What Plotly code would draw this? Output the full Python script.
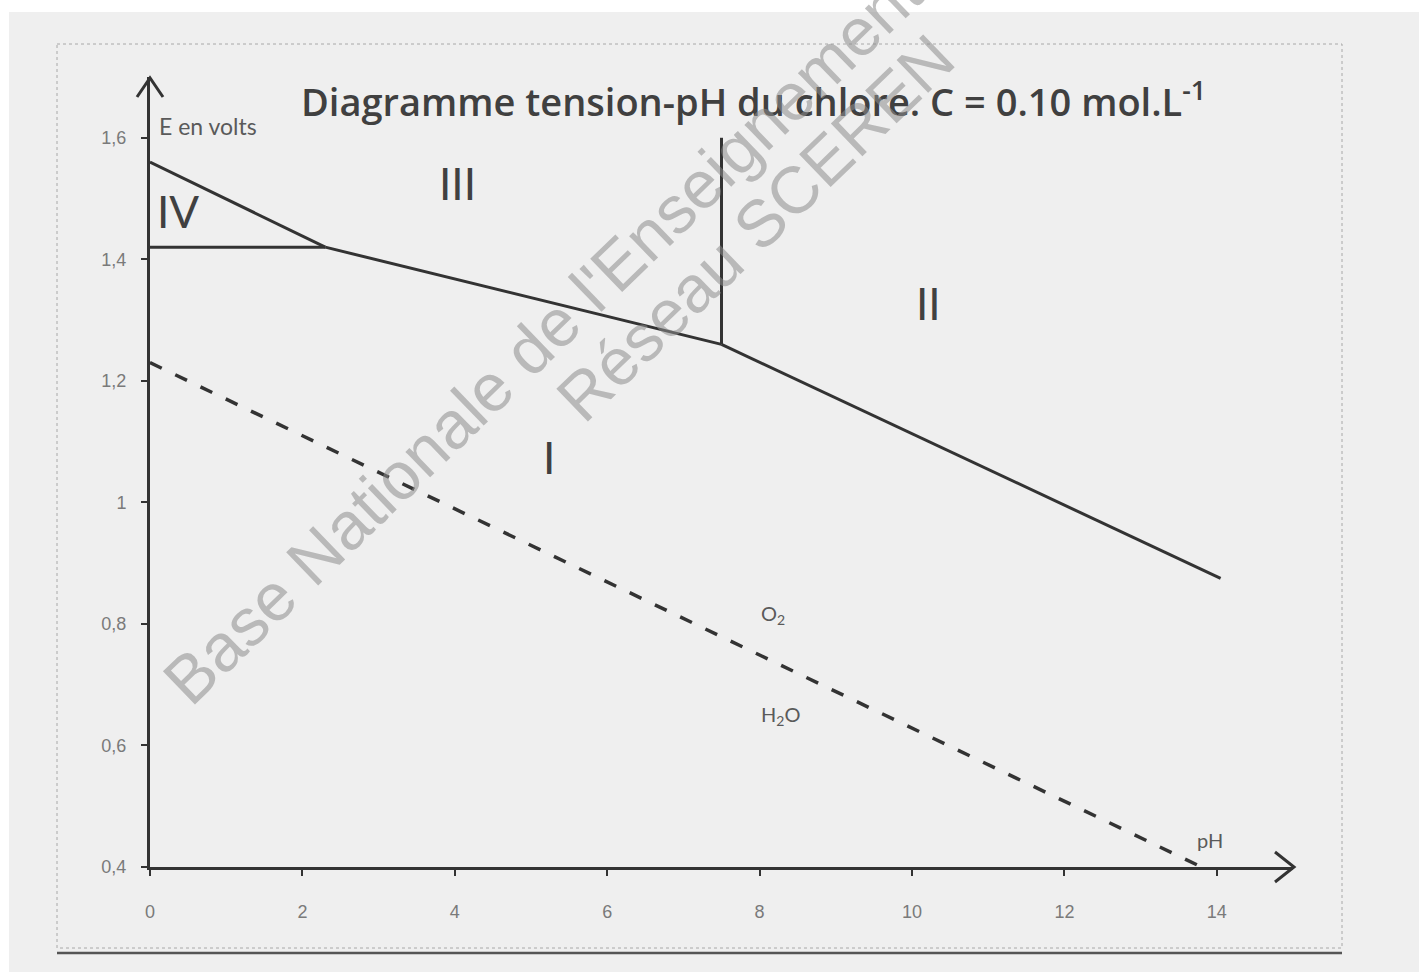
import plotly.graph_objects as go

# ---------------- data ----------------
# boundary IV / III
ph_iv_iii = [0.0, 2.3]
e_iv_iii = [1.56, 1.42]
# boundary IV / I (horizontal)
ph_iv_i = [0.0, 2.3]
e_iv_i = [1.42, 1.42]
# boundary III / I
ph_iii_i = [2.3, 7.5]
e_iii_i = [1.42, 1.26]
# boundary III / II (vertical)
ph_iii_ii = [7.5, 7.5]
e_iii_ii = [1.26, 1.60]
# boundary II / I
ph_ii_i = [7.5, 14.05]
e_ii_i = [1.26, 0.875]
# water O2 / H2O (dashed)
ph_water = [0.0, 13.8]
e_water = [1.23, 0.40]

x_tickvals = [0, 2, 4, 6, 8, 10, 12, 14]
y_tickvals = [0.4, 0.6, 0.8, 1.0, 1.2, 1.4, 1.6]
y_ticktext = ["0,4", "0,6", "0,8", "1", "1,2", "1,4", "1,6"]

region_labels = ["IV", "III", "II", "I"]
region_x = [0.37, 4.04, 10.22, 5.24]
region_y = [1.48, 1.525, 1.328, 1.074]

# ---------------- layout geometry (pixels) ----------------
W, H = 1419, 972
L, R, T, B = 150, 1293, 77, 867


def P(px, py):
    return (px - L) / (R - L), (B - py) / (B - T)


LINE = "#333333"
fig = go.Figure()

segments = [
    (ph_iv_iii, e_iv_iii),
    (ph_iv_i, e_iv_i),
    (ph_iii_i, e_iii_i),
    (ph_iii_ii, e_iii_ii),
    (ph_ii_i, e_ii_i),
]
for xs, ys in segments:
    fig.add_trace(go.Scatter(x=xs, y=ys, mode="lines", cliponaxis=False,
                             line=dict(color=LINE, width=3), hoverinfo="skip",
                             showlegend=False))

fig.add_trace(go.Scatter(x=ph_water, y=e_water, mode="lines", cliponaxis=False,
                         line=dict(color=LINE, width=3.5, dash="13px,15px"),
                         hoverinfo="skip", showlegend=False))

annotations = []
for t, x, y in zip(region_labels, region_x, region_y):
    annotations.append(dict(x=x, y=y, xref="x", yref="y", text=t, showarrow=False,
                            xanchor="center", yanchor="middle",
                            font=dict(family="Lato", size=44, color="#404040")))

small = [
    ("E en volts", 0.09, 1.619, "left", 23),
    ("O<sub>2</sub>", 8.18, 0.816, "center", 20),
    ("H<sub>2</sub>O", 8.27, 0.65, "center", 20),
    ("pH", 13.91, 0.444, "center", 20),
]
for t, x, y, xa, s in small:
    annotations.append(dict(x=x, y=y, xref="x", yref="y", text=t, showarrow=False,
                            xanchor=xa, yanchor="middle",
                            font=dict(family="Lato", size=s, color="#5a5a5a")))

# title
tx, ty = P(753, 99)
annotations.append(dict(x=tx, y=ty, xref="paper", yref="paper", showarrow=False,
                        xanchor="center", yanchor="middle",
                        text="Diagramme tension-pH du chlore. C = 0.10 mol.L<sup>-1</sup>",
                        font=dict(family="Open Sans", size=38, color="#404040", weight=600)))

# watermark
wm = [("Base Nationale de l'Enseignement", 542, 336, 67),
      ("Réseau SCEREN", 755, 228, 66)]
for t, px, py, s in wm:
    ax_, ay_ = P(px, py)
    annotations.append(dict(x=ax_, y=ay_, xref="paper", yref="paper", text=t,
                            showarrow=False, textangle=-44,
                            xanchor="center", yanchor="middle",
                            font=dict(family="Liberation Sans", size=s,
                                      color="rgba(140,140,140,0.55)")))

shapes = []
# white scan margins
for x0, y0, x1, y1 in [(0, 0, W, 12), (0, 0, 9, H)]:
    a, b = P(x0, y0)
    c, d = P(x1, y1)
    shapes.append(dict(type="rect", xref="paper", yref="paper", x0=a, y0=b, x1=c, y1=d,
                       fillcolor="white", line=dict(width=0), layer="below"))
# frame
a, b = P(57, 44)
c, d = P(1342, 948)
shapes.append(dict(type="rect", xref="paper", yref="paper", x0=a, y0=b, x1=c, y1=d,
                   line=dict(color="#a8a8a8", width=1, dash="dot"), layer="below"))
a, b = P(57, 953)
c, d = P(1342, 953)
shapes.append(dict(type="line", xref="paper", yref="paper", x0=a, y0=b, x1=c, y1=d,
                   line=dict(color="#555555", width=2.5)))


def path(pts):
    s = ""
    for i, (px, py) in enumerate(pts):
        x, y = P(px, py)
        s += ("M " if i == 0 else " L ") + f"{x},{y}"
    return s


# arrow heads
shapes.append(dict(type="path", xref="paper", yref="paper",
                   path=path([(137, 97), (150, 78), (163, 97)]),
                   line=dict(color=LINE, width=3)))
shapes.append(dict(type="path", xref="paper", yref="paper",
                   path=path([(1275, 852), (1294, 867), (1275, 882)]),
                   line=dict(color=LINE, width=3)))

fig.update_layout(
    width=W, height=H,
    margin=dict(l=L, r=W - R, t=T, b=H - B, pad=0),
    paper_bgcolor="#efefef", plot_bgcolor="#efefef",
    annotations=annotations, shapes=shapes,
    showlegend=False,
)
fig.update_xaxes(range=[0, 15], showgrid=False, zeroline=False, showline=True,
                 linecolor=LINE, linewidth=3, ticks="outside", ticklen=6, tickwidth=2,
                 tickcolor=LINE, tickvals=x_tickvals, ticklabelstandoff=20,
                 tickfont=dict(family="Liberation Sans", size=18, color="#7a7a7a"))
fig.update_yaxes(range=[0.4, 1.7], showgrid=False, zeroline=False, showline=True,
                 linecolor=LINE, linewidth=3, ticks="outside", ticklen=6, tickwidth=2,
                 tickcolor=LINE, tickvals=y_tickvals, ticktext=y_ticktext,
                 ticklabelstandoff=11,
                 tickfont=dict(family="Liberation Sans", size=18, color="#7a7a7a"))

fig.write_html("out.html")
